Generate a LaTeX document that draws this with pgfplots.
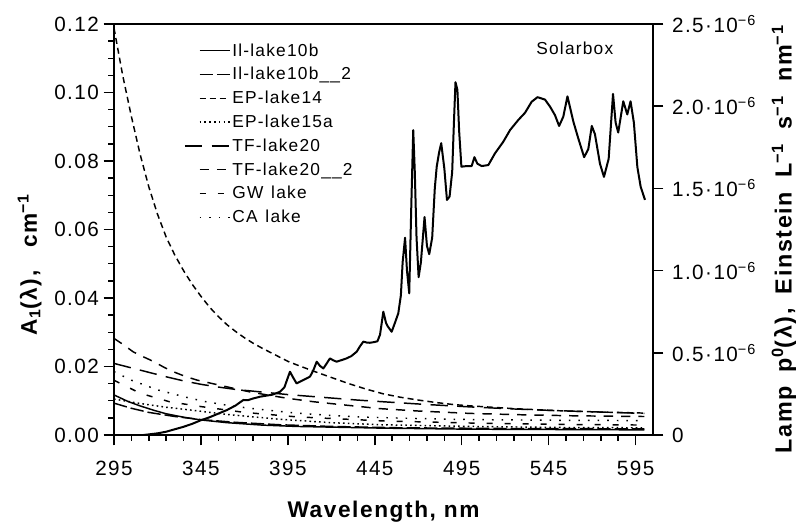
\documentclass[border=0pt]{standalone}
\usepackage{pgfplots}
\pgfplotsset{compat=1.18}
\usepackage{fontspec}
\setmainfont{Liberation Sans}[LetterSpace=7]
\begin{document}
\begin{tikzpicture}
\pgfplotsset{
  commonax/.style={
    at={(0,0)}, anchor=south west,
    scale only axis, width=404.25pt, height=308.25pt,
    xmin=295, xmax=605,
    tick align=outside,
    major tick length=7.8pt, minor tick length=4.2pt,
    every tick/.style={black, line width=1.1pt},
    axis line style={line width=1.5pt},
    /pgf/number format/assume math mode=true,
    tick label style={font=\fontsize{15.5}{17}\selectfont},
  },
  longleg/.style={legend image code/.code={\draw[##1] (-11pt,0pt) -- (22.5pt,0pt);}},
}
\begin{axis}[
  commonax,
  ymin=0, ymax=0.12,
  xtick={295,345,395,445,495,545,595},
  minor x tick num=4,
  ytick={0,0.02,0.04,0.06,0.08,0.1,0.12},
  minor y tick num=3,
  xtick pos=bottom, ytick pos=left,
  yticklabel style={/pgf/number format/.cd, fixed, fixed zerofill, precision=2},
  xticklabel style={yshift=-8pt},
  scaled y ticks=false,
  xlabel={Wavelength, nm},
  ylabel={A\textsubscript{1}(λ),\hspace{1em}cm\textsuperscript{−1}},
  every axis x label/.style={at={(axis description cs:0.5,0)}, anchor=base, yshift=-61.5pt, font=\fontsize{17}{20}\selectfont\bfseries},
  every axis y label/.style={at={(axis description cs:-0.143,0.415)}, rotate=90, anchor=base, font=\fontsize{17}{20}\selectfont\bfseries},
  legend style={at={(axis description cs:0.1224,0.971)}, anchor=north west, draw=none, fill=none,
    font=\fontsize{13}{15}\selectfont, row sep=0pt, column sep=1.5pt,
    nodes={inner sep=0pt, minimum height=17.85pt}},
  legend cell align=left,
  legend image code/.code={\draw[#1] (0pt,0pt) -- (22.5pt,0pt);},
]
% Il-lake10b
\addplot[black, line width=1.1pt] coordinates {
(295,0.0117) (303,0.0098) (310,0.0085) (318,0.0072) (325,0.0062) (335,0.0052) (345,0.0044) (360,0.0036) (380,0.0029) (400,0.0025) (450,0.0020) (500,0.0017) (550,0.0016) (600,0.0015)};
\addlegendentry{Il-lake10b}
% Il-lake10b_2
\addplot[black, line width=1.1pt, dash pattern=on 10pt off 3pt] coordinates {
(295,0.0093) (305,0.0078) (315,0.0066) (330,0.0054) (345,0.0045) (365,0.0037) (390,0.0030) (420,0.0025) (460,0.0021) (520,0.0019) (600,0.0018)};
\addlegendentry{Il-lake10b\_\_2}
% EP-lake14
\addplot[black, line width=1.1pt, dash pattern=on 4.5pt off 3pt] coordinates {
(295,0.1188) (300,0.1050) (305,0.0930) (310,0.0820) (315,0.0725) (320,0.0645) (325,0.0578) (330,0.0525) (335,0.0480) (340,0.0440) (345,0.0405) (350,0.0373) (355,0.0346) (360,0.0322) (365,0.0302) (370,0.0284) (375,0.0268) (380,0.0254) (385,0.0241) (390,0.0228) (395,0.0215) (400,0.0205) (410,0.0186) (420,0.0168) (430,0.0150) (440,0.0134) (450,0.0120) (460,0.0110) (470,0.0102) (480,0.0095) (490,0.0089) (500,0.0085) (525,0.0077) (550,0.0071) (575,0.0067) (600,0.0064)};
\addlegendentry{EP-lake14}
% EP-lake15a
\addplot[black, line width=1.1pt, dash pattern=on 1.2pt off 2.4pt] coordinates {
(295,0.0105) (310,0.0092) (325,0.0081) (339,0.0073) (360,0.0060) (390,0.0046) (420,0.0036) (448,0.0030) (500,0.0025) (550,0.0022) (600,0.0021)};
\addlegendentry{EP-lake15a}
% TF-lake20
\addplot[black, line width=1.1pt, dash pattern=on 13pt off 7pt, longleg] coordinates {
(295,0.0209) (305,0.0196) (315,0.0183) (325,0.0170) (335,0.0158) (345,0.0148) (355,0.0140) (365,0.0133) (375,0.0128) (385,0.0123) (395,0.0118) (405,0.0114) (420,0.0108) (435,0.0102) (450,0.0097) (475,0.0089) (500,0.0082) (525,0.0076) (550,0.0071) (575,0.0067) (600,0.0063)};
\addlegendentry{TF-lake20}
% TF-lake20_2
\addplot[black, line width=1.1pt, dash pattern=on 7pt off 6pt] coordinates {
(295,0.0282) (300,0.0265) (306,0.0243) (312,0.0228) (318,0.0214) (324,0.0197) (330,0.0183) (336,0.0171) (343,0.0160) (350,0.0152) (357,0.0144) (364,0.0136) (373,0.0126) (383,0.0117) (395,0.0107) (410,0.0097) (425,0.0089) (448,0.0077) (470,0.0070) (500,0.0063) (530,0.0059) (560,0.0056) (600,0.0054)};
\addlegendentry{TF-lake20\_\_2}
% GW lake
\addplot[black, line width=1.1pt, dash pattern=on 4.5pt off 9pt] coordinates {
(295,0.0160) (310,0.0122) (327,0.0097) (345,0.0083) (370,0.0066) (400,0.0053) (450,0.0041) (500,0.0035) (550,0.0031) (600,0.0029)};
\addlegendentry{GW\hspace{0.45em}lake}
% CA lake
\addplot[black, line width=1.1pt, dash pattern=on 1.2pt off 6pt] coordinates {
(295,0.0185) (305,0.0160) (320,0.0132) (335,0.0112) (347,0.0098) (360,0.0087) (373,0.0078) (386,0.0071) (400,0.0064) (420,0.0057) (440,0.0052) (470,0.0048) (500,0.0045) (550,0.0043) (600,0.0042)};
\addlegendentry{CA\hspace{0.45em}lake}
\node[anchor=east, font=\fontsize{13}{15}\selectfont] at (rel axis cs:0.935,0.9416) {Solarbox};
\end{axis}
\begin{axis}[
  commonax,
  ymin=0, ymax=2.5,
  axis x line=none, axis y line*=right,
  ytick={0,0.5,1,1.5,2,2.5},
  yticklabels={0, 0.5·10\textsuperscript{−6}, 1.0·10\textsuperscript{−6}, 1.5·10\textsuperscript{−6}, 2.0·10\textsuperscript{−6}, 2.5·10\textsuperscript{−6}},
  yticklabel style={xshift=3pt},
  scaled y ticks=false,
  ylabel={Lamp\hspace{0.6em}p\textsuperscript{0}(λ),\hspace{0.6em}Einstein\hspace{0.6em}L\textsuperscript{−1}\hspace{0.6em}s\textsuperscript{−1}\hspace{0.6em}nm\textsuperscript{−1}},
  every axis y label/.style={at={(axis description cs:1.257,0.477)}, rotate=90, anchor=base, font=\fontsize{17.5}{20}\selectfont\bfseries},
]
\addplot[black, line width=1.5pt, line join=round] coordinates {
(305,0) (312,0) (316,0.005) (320,0.01) (325,0.02) (330,0.035) (335,0.05) (340,0.068) (345,0.09) (350,0.108) (355,0.13) (360,0.152) (365,0.18) (369.4,0.213) (372,0.212) (375,0.222) (379,0.233) (383,0.24) (386,0.245) (390.5,0.263) (393,0.29) (396.2,0.385) (398,0.35) (400,0.314) (404,0.335) (407.7,0.355) (409.5,0.39) (411.6,0.446) (413.5,0.42) (415.4,0.405) (417,0.43) (419.2,0.466) (421,0.455) (423,0.446) (426,0.456) (428.8,0.466) (431.5,0.48) (434.6,0.507) (436.5,0.54) (438.4,0.568) (440.5,0.562) (442.2,0.561) (444.5,0.565) (446.5,0.57) (448,0.61) (449.9,0.75) (451.5,0.68) (452.5,0.66) (454.7,0.628) (456.5,0.68) (458.5,0.74) (460,0.85) (461,1.05) (462.4,1.2) (463.5,1.0) (464.8,0.862) (466,1.4) (467.1,1.855) (468,1.6) (469,1.2) (470.2,0.96) (471.5,1.05) (473.6,1.326) (475,1.15) (476.3,1.10) (478,1.2) (479.5,1.5) (480.6,1.632) (482,1.72) (483.2,1.775) (485,1.62) (486.5,1.43) (488,1.45) (489.5,1.6) (490.5,1.9) (491.4,2.146) (492.5,2.10) (493.5,1.85) (494.8,1.632) (497.9,1.636) (500.7,1.636) (502.3,1.69) (504,1.65) (506.5,1.636) (510.3,1.642) (514.1,1.713) (518.9,1.784) (522.8,1.855) (527.5,1.916) (531.4,1.96) (535.2,2.027) (538.6,2.055) (542.9,2.040) (545.8,1.997) (548.6,1.946) (551,1.88) (553.4,1.936) (555.8,2.06) (559.2,1.906) (562,1.805) (565.4,1.69) (567.8,1.74) (569.8,1.88) (571.6,1.83) (574.5,1.65) (576.8,1.57) (579.5,1.68) (582,2.075) (583.5,1.90) (585,1.84) (587.9,2.03) (590.2,1.95) (592.1,2.03) (594,1.90) (596,1.63) (597.9,1.51) (600.4,1.43)};
\end{axis}
\pgfresetboundingbox
\path[use as bounding box] (-85.5pt,-65.25pt) rectangle (511.5pt,326.25pt);
\end{tikzpicture}
\end{document}
